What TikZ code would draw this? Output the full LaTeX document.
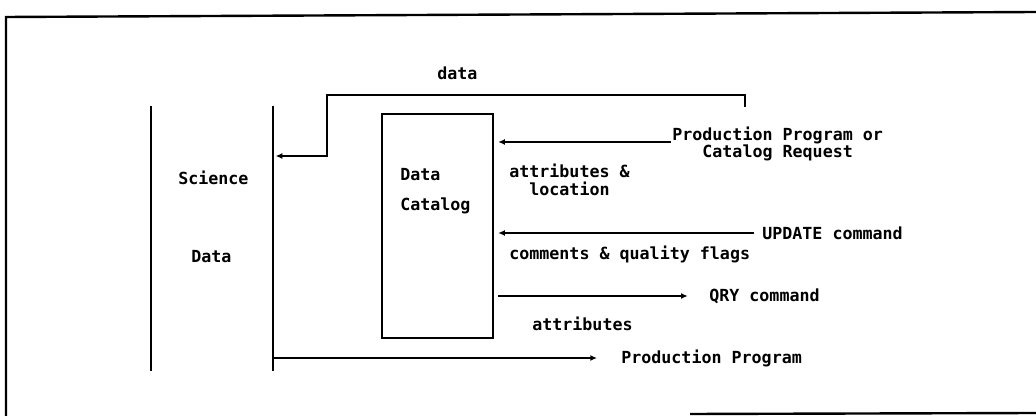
\documentclass[tikz,border=0pt]{standalone}
\usepackage{fontspec}
\setmonofont{DejaVu Sans Mono}
\usetikzlibrary{arrows.meta,positioning}
\tikzset{
  lbl/.style={font=\ttfamily\bfseries\fontsize{12.5}{13}\selectfont, inner sep=0pt, anchor=west, align=center},
  flow/.style={line width=2pt, -{Latex[length=5pt,width=4.5pt]}},
  wall/.style={line width=2pt}
}
\begin{document}
\begin{tikzpicture}[x=0.75pt,y=-0.75pt]
\useasboundingbox (0,0) rectangle (1036,416);
% outer frame
\draw[line width=1.8pt] (1036,12) -- (6,17) -- (6,416);
\draw[line width=1.8pt] (690,414) -- (1036,413);

% science data store
\draw[wall] (151,106) -- (151,371);
\draw[wall] (273,106) -- (273,371);
\coordinate (sd) at (273,238);
\node[lbl] (sci) at (178,178) {Science};
\node[lbl] (sdat) at (191,257) {Data};

% data catalog
\node[draw, line width=1.8pt, minimum width=111*0.75pt, minimum height=224*0.75pt, inner sep=0pt] (cat) at (437.5,226) {};
\node[lbl] (catA) at (400,175) {Data};
\node[lbl] (catB) at (400,206) {Catalog};

% requests and commands
\node[lbl] (req) at (672,144) {Production Program or\\Catalog Request};
\node[lbl] (attloc) at (509,180) {attributes \&\\location};
\node[lbl] (upd) at (762,233) {UPDATE command};
\node[lbl] (cmt) at (509,254) {comments \& quality flags};
\node[lbl] (qry) at (709,296) {QRY command};
\node[lbl] (att) at (532,324) {attributes};
\node[lbl] (prog) at (621,358) {Production Program};
\node[lbl] (dat) at (437,73) {data};

\coordinate (dtop) at (745,107);
\coordinate (dret) at (327,95);

\draw[flow] ([xshift=-1pt,yshift=1.5pt]req.west) -- ([xshift=3pt,yshift=1.5pt]req.west -| cat.east);
\draw[flow] ([xshift=-6pt]upd.west) -- ([xshift=3pt]upd.west -| cat.east);
\draw[flow] ([xshift=3pt]cat.east |- qry.west) -- ([xshift=-16pt]qry.west);
\draw[flow] (sd |- prog.west) -- ([xshift=-18pt]prog.west);
\draw[flow] (dtop) -- (dtop |- dret) -- (dret) -- (327,156) -- ([xshift=2pt]sd |- 0,156);
\end{tikzpicture}
\end{document}
